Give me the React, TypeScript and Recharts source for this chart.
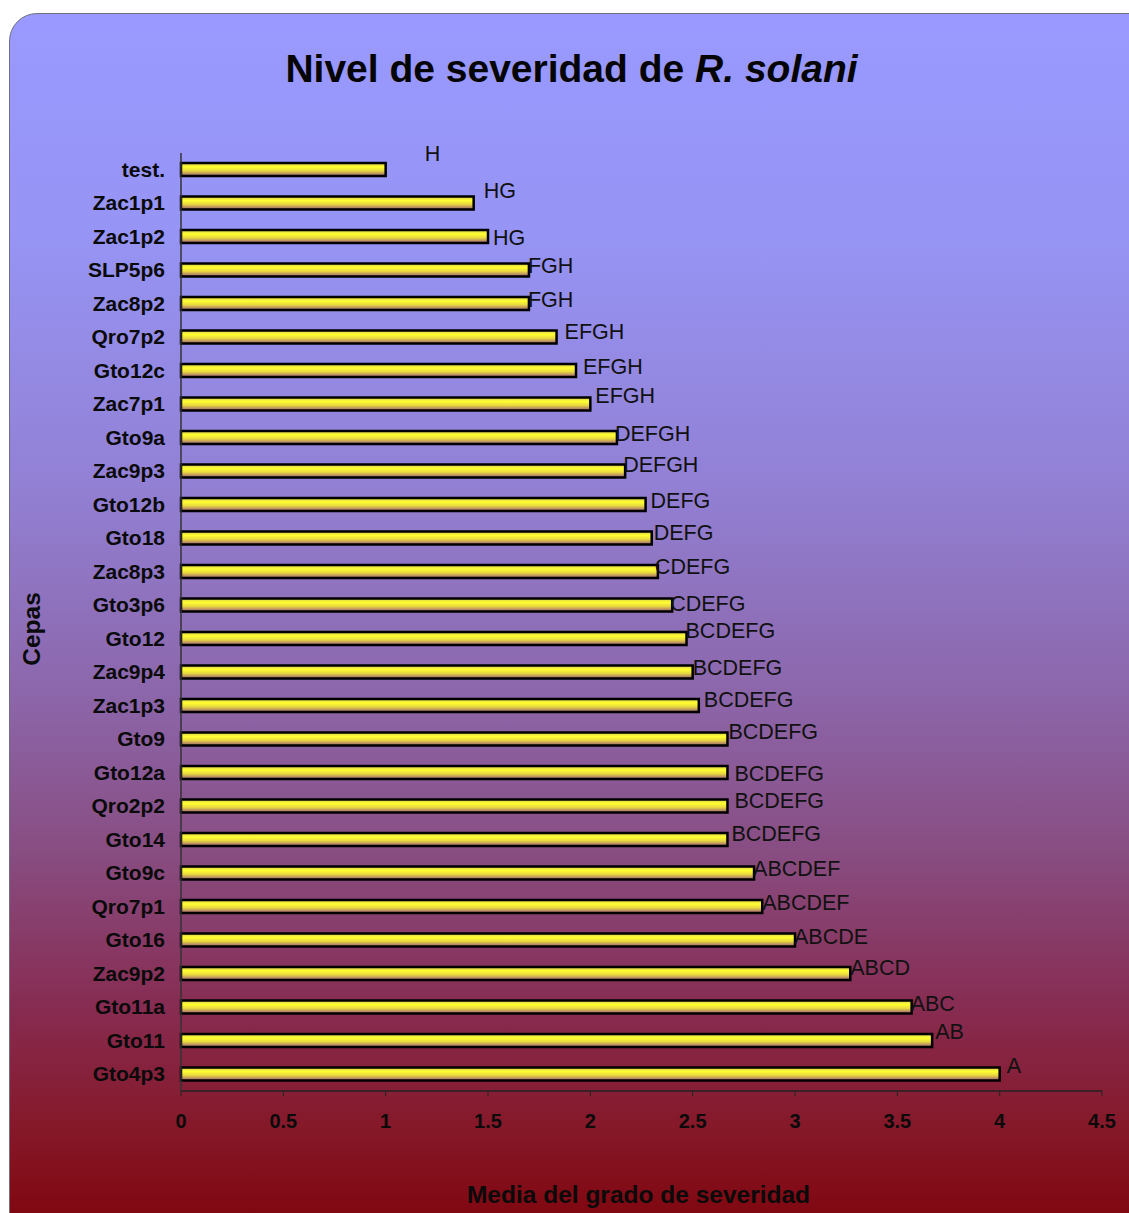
import React from "react";
import { BarChart, Bar, XAxis, YAxis, LabelList } from "recharts";

// ---------------------------------------------------------------------------
// Data
// ---------------------------------------------------------------------------

const CEPAS = [
  "test.", "Zac1p1", "Zac1p2", "SLP5p6", "Zac8p2", "Qro7p2", "Gto12c",
  "Zac7p1", "Gto9a", "Zac9p3", "Gto12b", "Gto18", "Zac8p3", "Gto3p6",
  "Gto12", "Zac9p4", "Zac1p3", "Gto9", "Gto12a", "Qro2p2", "Gto14",
  "Gto9c", "Qro7p1", "Gto16", "Zac9p2", "Gto11a", "Gto11", "Gto4p3",
];

const MEDIA = [
  1.0, 1.43, 1.5, 1.7, 1.7, 1.835, 1.93, 2.0, 2.13, 2.17, 2.27, 2.3, 2.33,
  2.4, 2.47, 2.5, 2.53, 2.67, 2.67, 2.67, 2.67, 2.8, 2.84, 3.0, 3.27, 3.57,
  3.67, 4.0,
];

const GRUPOS = [
  "H", "HG", "HG", "FGH", "FGH", "EFGH", "EFGH", "EFGH", "DEFGH", "DEFGH",
  "DEFG", "DEFG", "CDEFG", "CDEFG", "BCDEFG", "BCDEFG", "BCDEFG", "BCDEFG",
  "BCDEFG", "BCDEFG", "BCDEFG", "ABCDEF", "ABCDEF", "ABCDE", "ABCD", "ABC",
  "AB", "A",
];

const X_TICKS = [0, 0.5, 1, 1.5, 2, 2.5, 3, 3.5, 4, 4.5];

// hand-placed letter labels in the original — small nudges from the bar end
const LABEL_NUDGE: [number, number][] = [
  [39, -16], [10, -12], [5, 1], [-1, -4], [-1, -4], [8, -5], [7, -4],
  [5, -8], [-2, -4], [-2, -6], [5, -4], [2, -5], [-3, -5], [-2, -1],
  [-1, -8], [0, -4], [5, -6], [1, -7], [7, 1], [7, -5], [4, -6],
  [-1, -4], [0, -4], [-1, -3], [0, -6], [-1, -3], [3, -9], [7, -8],
];

const rows = CEPAS.map((cepa, i) => ({
  cepa,
  media: MEDIA[i],
  grupo: GRUPOS[i],
}));

const FONT = '"Liberation Sans", Arial, Helvetica, sans-serif';

// ---------------------------------------------------------------------------
// Custom renderers
// ---------------------------------------------------------------------------

function CategoryTick(props: any) {
  const { x, y, payload } = props;
  return (
    <text
      x={x}
      y={y}
      dy={7}
      textAnchor="end"
      fontFamily={FONT}
      fontWeight="bold"
      fontSize={21}
      fill="#0a0a0a"
    >
      {payload.value}
    </text>
  );
}

function ValueTick(props: any) {
  const { x, y, payload } = props;
  return (
    <text
      x={x}
      y={y}
      dy={30}
      textAnchor="middle"
      fontFamily={FONT}
      fontWeight="bold"
      fontSize={20}
      fill="#0a0a0a"
    >
      {payload.value}
    </text>
  );
}

function GroupLabel(props: any) {
  const { x, y, width, height, value, index } = props;
  const [dx, dy] = LABEL_NUDGE[index] ?? [4, -4];
  return (
    <text
      x={x + width + dx}
      y={y + height / 2 + dy}
      dy={7}
      textAnchor="start"
      fontFamily={FONT}
      fontSize={21.5}
      fill="#111"
    >
      {value}
    </text>
  );
}

// ---------------------------------------------------------------------------
// Component
// ---------------------------------------------------------------------------

export default function App() {
  return (
    <div
      style={{
        position: "absolute",
        left: 0,
        top: 0,
        width: 1129,
        height: 1213,
        overflow: "hidden",
        background: "#ffffff",
        fontFamily: FONT,
      }}
    >
      <div
        style={{
          position: "absolute",
          left: 9,
          top: 13,
          width: 1160,
          height: 1240,
          borderRadius: 28,
          border: "1px solid #6f6f80",
          background:
            "linear-gradient(to bottom, #9999ff 0%, #9694f4 18%, #9280d4 38%, #8c66aa 55%, #884c80 68%, #872c52 80%, #851828 90%, #7e0006 100%)",
        }}
      />
      <div
        style={{
          position: "absolute",
          left: 0,
          top: 45,
          width: 1143,
          textAlign: "center",
          fontSize: 39,
          lineHeight: "48px",
          fontWeight: "bold",
          color: "#050505",
        }}
      >
        Nivel de severidad de <i>R. solani</i>
      </div>
      <div style={{ position: "absolute", left: 0, top: 0 }}>
        <BarChart
          width={1129}
          height={1213}
          data={rows}
          layout="vertical"
          margin={{ top: 153, right: 27, bottom: 92, left: 0 }}
          barCategoryGap={0}
        >
          <defs>
            <linearGradient id="barFill" x1="0" y1="0" x2="0" y2="1">
              <stop offset="0%" stopColor="#d8c850" />
              <stop offset="30%" stopColor="#ffff30" />
              <stop offset="60%" stopColor="#e8d840" />
              <stop offset="100%" stopColor="#9a5a7a" />
            </linearGradient>
          </defs>
          <XAxis
            type="number"
            domain={[0, 4.5]}
            ticks={X_TICKS}
            interval={0}
            height={30}
            axisLine={{ stroke: "#222", strokeWidth: 1.5 }}
            tickLine={{ stroke: "#222" }}
            tickSize={5}
            tick={<ValueTick />}
            label={{
              content: (p: any) => {
                const vb = p.viewBox;
                return (
                  <text
                    x={vb.x + vb.width / 2 - 3}
                    y={vb.y + 112}
                    textAnchor="middle"
                    fontFamily={FONT}
                    fontWeight="bold"
                    fontSize={24.5}
                    fill="#0a0a0a"
                  >
                    Media del grado de severidad
                  </text>
                );
              },
            }}
          />
          <YAxis
            type="category"
            dataKey="cepa"
            width={181}
            interval={0}
            axisLine={{ stroke: "#333", strokeWidth: 1.5 }}
            tickLine={false}
            tickSize={0}
            tickMargin={16}
            tick={<CategoryTick />}
            label={{
              content: (p: any) => {
                const vb = p.viewBox;
                const cx = vb.x + 40;
                const cy = vb.y + vb.height / 2 + 7;
                return (
                  <text
                    x={cx}
                    y={cy}
                    transform={`rotate(-90 ${cx} ${cy})`}
                    textAnchor="middle"
                    fontFamily={FONT}
                    fontWeight="bold"
                    fontSize={24.5}
                    fill="#0a0a0a"
                  >
                    Cepas
                  </text>
                );
              },
            }}
          />
          <Bar
            dataKey="media"
            barSize={13}
            fill="url(#barFill)"
            stroke="#000"
            strokeWidth={2.5}
            isAnimationActive={false}
          >
            <LabelList dataKey="grupo" content={<GroupLabel />} />
          </Bar>
        </BarChart>
      </div>
    </div>
  );
}
